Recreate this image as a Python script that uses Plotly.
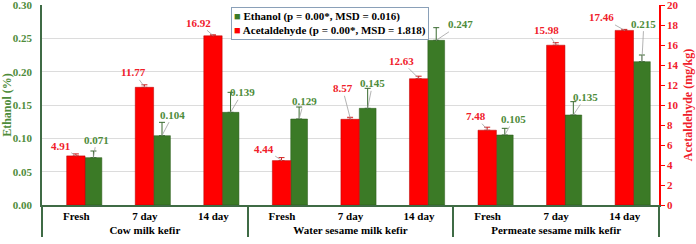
import plotly.graph_objects as go

groups = ["Cow milk kefir"] * 3 + ["Water sesame milk kefir"] * 3 + ["Permeate sesame milk kefir"] * 3
stages = ["Fresh", "7 day", "14 day"] * 3

ethanol = [0.071, 0.104, 0.139, 0.129, 0.145, 0.247, 0.105, 0.135, 0.215]
ethanol_err = [0.010, 0.020, 0.030, 0.018, 0.030, 0.019, 0.010, 0.020, 0.010]
acet = [4.91, 11.77, 16.92, 4.44, 8.57, 12.63, 7.48, 15.98, 17.46]
acet_err = [0.20, 0.25, 0.10, 0.30, 0.20, 0.25, 0.30, 0.25, 0.10]

eth_labels = ["0.071", "0.104", "0.139", "0.129", "0.145", "0.247", "0.105", "0.135", "0.215"]
acet_labels = ["4.91", "11.77", "16.92", "4.44", "8.57", "12.63", "7.48", "15.98", "17.46"]

eth_name = "Ethanol (p = 0.00*, MSD = 0.016)"
acet_name = "Acetaldehyde (p = 0.00*, MSD = 1.818)"

# label offsets (pixels) relative to bar tops
eth_off = [(3, -18), (11, -21), (12, -20), (5, -18), (5, -25), (24, -16), (9, -16), (12, -18), (2, -38)]
acet_off = [(-16, -10), (-11, -15), (-15, -13), (-18, -12), (-8, -31), (-18, -18), (-12, -14), (-10, -15), (-23, -13)]

GREEN = "#3b7a26"
GREEN_TXT = "#4e8c3a"
AXIS_GREEN = "#3f6b45"
RED = "#ff0000"
RED_TXT = "#f0202a"
FONT = "Liberation Serif"

fig = go.Figure()
fig.add_trace(go.Bar(
    x=[groups, stages], y=ethanol, name=eth_name,
    marker=dict(color=GREEN, line=dict(color="#2a5a1a", width=0.5)),
    offset=0.128, width=0.245,
    error_y=dict(type="data", symmetric=False, array=ethanol_err, arrayminus=[0] * 9,
                 color="#3a6a30", thickness=1, width=3),
    yaxis="y", showlegend=False,
))
fig.add_trace(go.Bar(
    x=[groups, stages], y=acet, name=acet_name,
    marker=dict(color=RED, line=dict(color="#b00000", width=0.5)),
    offset=-0.14, width=0.268,
    error_y=dict(type="data", symmetric=False, array=acet_err, arrayminus=[0] * 9,
                 color="#d02020", thickness=1, width=3),
    yaxis="y2", showlegend=False,
))

annotations = []
for i in range(len(ethanol)):
    annotations.append(dict(
        x=i + 0.25, y=ethanol[i], xref="x", yref="y",
        text=eth_labels[i], showarrow=True, arrowhead=0, arrowwidth=0.8,
        arrowcolor="#a0a0a0", ax=eth_off[i][0], ay=eth_off[i][1],
        font=dict(family=FONT, size=11, color=GREEN_TXT, weight="bold"),
    ))
    annotations.append(dict(
        x=i, y=acet[i], xref="x", yref="y2",
        text=acet_labels[i], showarrow=True, arrowhead=0, arrowwidth=0.8,
        arrowcolor="#a0a0a0", ax=acet_off[i][0], ay=acet_off[i][1],
        font=dict(family=FONT, size=11, color=RED_TXT, weight="bold"),
    ))

# legend box
annotations.append(dict(
    xref="paper", yref="paper", x=0.306, y=0.99, xanchor="left", yanchor="top",
    showarrow=False, align="left",
    text=(f"<span style='color:{GREEN}'>■</span> {eth_name}<br>"
          f"<span style='color:{RED}'>■</span> {acet_name}"),
    font=dict(family=FONT, size=11, color="black", weight="bold"),
    bgcolor="white", bordercolor="#8aa0b8", borderwidth=1, borderpad=2,
))

fig.update_layout(
    width=696, height=244,
    margin=dict(l=42, r=37, t=5, b=39, autoexpand=False),
    paper_bgcolor="white", plot_bgcolor="white",
    barmode="overlay",
    font=dict(family=FONT, size=11, color="black"),
    showlegend=False,
    annotations=annotations,
    xaxis=dict(
        type="multicategory", showline=True, linecolor=AXIS_GREEN, linewidth=1.5,
        showdividers=True, dividercolor=AXIS_GREEN, dividerwidth=1.5,
        ticks="", tickfont=dict(family=FONT, size=11, color="black", weight="bold"),
        showgrid=False, range=[-0.5, 8.5],
    ),
    yaxis=dict(
        range=[0, 0.30], dtick=0.05, tickformat=".2f", automargin=False,
        showline=True, linecolor=AXIS_GREEN, linewidth=1.5,
        gridcolor="#dcdcdc", gridwidth=1, zeroline=False,
        ticklabelstandoff=6, ticklabeloverflow="allow",
        tickfont=dict(family=FONT, size=11, color=GREEN_TXT, weight="bold"),
        title=dict(text="Ethanol (%)", standoff=4,
                   font=dict(family=FONT, size=12, color=GREEN_TXT, weight="bold")),
    ),
    yaxis2=dict(
        range=[0, 20], dtick=2, overlaying="y", side="right", automargin=False,
        showline=True, linecolor=RED, linewidth=1.5, showgrid=False, zeroline=False,
        ticks="outside", ticklen=4, tickcolor=RED, ticklabeloverflow="allow",
        tickfont=dict(family=FONT, size=11, color=RED_TXT, weight="bold"),
        title=dict(text="Acetaldehyde (mg/kg)", standoff=6,
                   font=dict(family=FONT, size=12, color=RED_TXT, weight="bold")),
    ),
)

fig.write_html("out.html", config={"displayModeBar": False},
               post_script="document.body.style.margin='0px';")
